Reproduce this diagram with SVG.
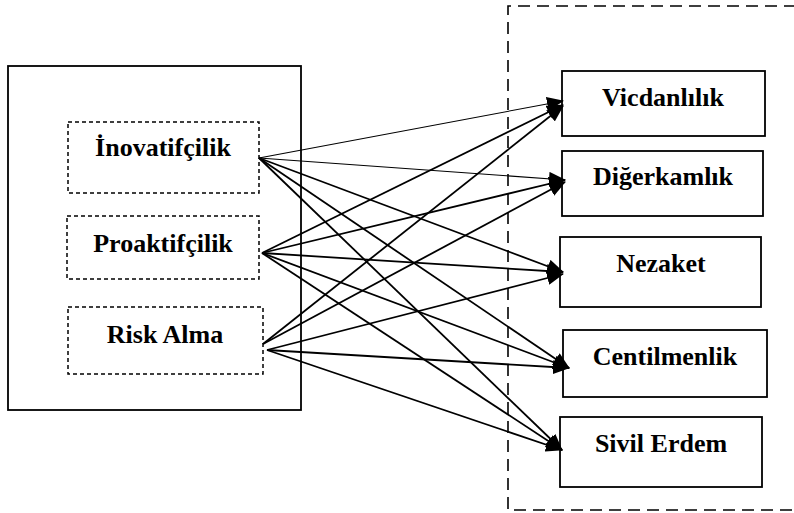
<svg xmlns="http://www.w3.org/2000/svg" width="794" height="513" viewBox="0 0 794 513">
<style>
.t{font-family:"Liberation Serif","Times New Roman",serif;font-weight:bold;font-size:26px;text-anchor:middle;fill:#000}
.inner{fill:none;stroke:#000;stroke-width:1.5;stroke-dasharray:4,3}
.box{fill:#fff;stroke:#000;stroke-width:1.8}
.c{stroke:#000;stroke-width:1.8;fill:none;marker-end:url(#ah)}
.thin{stroke-width:1.1}
</style>
<defs>
<marker id="ah" markerUnits="userSpaceOnUse" markerWidth="17" markerHeight="14" refX="16" refY="7" orient="auto">
<path d="M0,0 L17,7 L0,14 z" fill="#000"/>
</marker>
</defs>
<rect width="794" height="513" fill="#fff"/>
<g id="left-group">
<rect x="8" y="66" width="293" height="344" fill="none" stroke="#000" stroke-width="1.8"/>
</g>
<g id="right-group">
<path d="M796,6 L508,6 L508,510 L796,510" fill="none" stroke="#000" stroke-width="1.6" stroke-dasharray="12,7"/>
</g>
<g id="n-inovatifcilik">
<rect class="inner" x="68" y="122" width="191" height="71"/>
<text class="t" x="163" y="156">İnovatifçilik</text>
</g>
<g id="n-proaktifcilik">
<rect class="inner" x="67" y="216" width="192" height="63"/>
<text class="t" x="163" y="252">Proaktifçilik</text>
</g>
<g id="n-riskalma">
<rect class="inner" x="68" y="307" width="195" height="67"/>
<text class="t" x="165" y="343">Risk Alma</text>
</g>
<g id="n-vicdanlilik">
<rect class="box" x="562" y="71" width="203" height="65"/>
<text class="t" x="663" y="106">Vicdanlılık</text>
</g>
<g id="n-digerkamlik">
<rect class="box" x="562" y="151" width="201" height="65"/>
<text class="t" x="663" y="185">Diğerkamlık</text>
</g>
<g id="n-nezaket">
<rect class="box" x="560" y="237" width="201" height="70"/>
<text class="t" x="661" y="272">Nezaket</text>
</g>
<g id="n-centilmenlik">
<rect class="box" x="563" y="330" width="204" height="67"/>
<text class="t" x="665" y="365">Centilmenlik</text>
</g>
<g id="n-sivilerdem">
<rect class="box" x="560" y="417" width="202" height="70"/>
<text class="t" x="661" y="452">Sivil Erdem</text>
</g>
<g id="connectors">
<line class="c thin" x1="259" y1="158" x2="563" y2="101"/>
<line class="c thin" x1="259" y1="158" x2="565" y2="180"/>
<line class="c" x1="259" y1="158" x2="563" y2="272"/>
<line class="c" x1="259" y1="158" x2="569" y2="368"/>
<line class="c" x1="259" y1="158" x2="562" y2="450"/>
<line class="c" x1="262" y1="253" x2="563" y2="105"/>
<line class="c" x1="262" y1="253" x2="565" y2="180"/>
<line class="c" x1="262" y1="253" x2="563" y2="272"/>
<line class="c" x1="262" y1="253" x2="569" y2="368"/>
<line class="c" x1="262" y1="253" x2="562" y2="450"/>
<line class="c" x1="263" y1="344" x2="563" y2="106"/>
<line class="c" x1="263" y1="344" x2="565" y2="182"/>
<line class="c" x1="267" y1="350" x2="563" y2="274"/>
<line class="c" x1="267" y1="350" x2="569" y2="368"/>
<line class="c" x1="267" y1="350" x2="562" y2="450"/>
</g>
</svg>
